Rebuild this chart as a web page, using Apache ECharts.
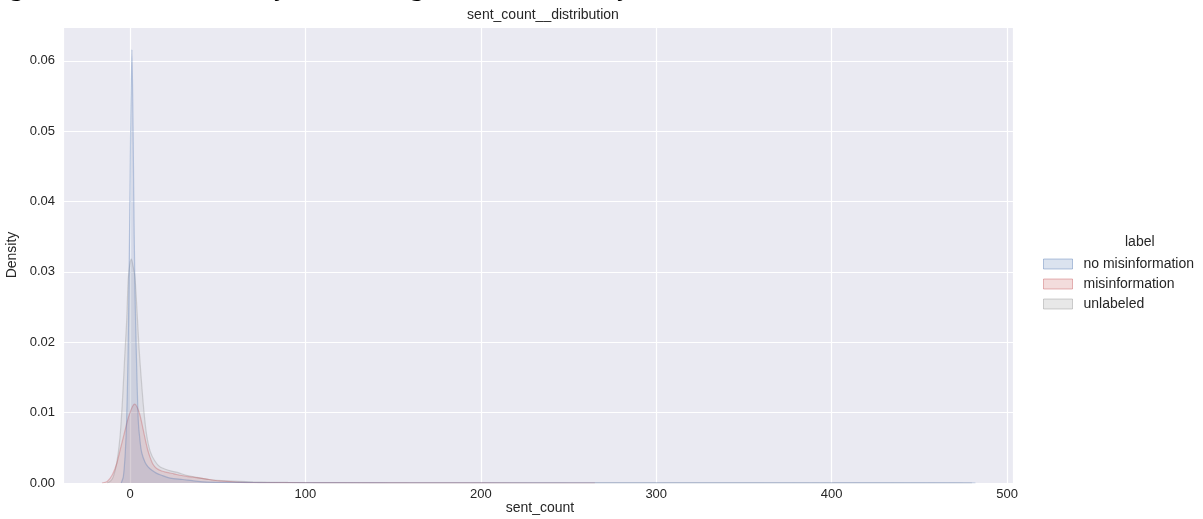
<!DOCTYPE html>
<html>
<head>
<meta charset="utf-8">
<script src="https://cdn.jsdelivr.net/npm/echarts@6/dist/echarts.min.js"></script>
<style>
html,body{margin:0;padding:0;background:#fff;}
#chart{width:1203px;height:519px;}
</style>
</head>
<body>
<div id="chart"></div>
<script>
// ---- data ----
const seriesNames = ['no misinformation', 'misinformation', 'unlabeled'];

const noMisX = [-5, -3.8, -2.7, -1.9, -1.1, -0.6, 0, 0.4, 1.1, 1.7, 2.1, 2.8, 3.6, 4.7, 5.7, 6.7, 8.5, 10.3, 12.5, 15, 18, 23, 30, 40, 50, 60, 65, 75, 100, 125, 150, 200, 300, 400, 465, 475, 482];
const noMisY = [0, 0.0009, 0.0043, 0.009, 0.0185, 0.0278, 0.042, 0.0516, 0.0616, 0.0516, 0.042, 0.0278, 0.0185, 0.009, 0.006, 0.0043, 0.003, 0.0023, 0.0018, 0.0014, 0.0011, 0.0007, 0.0005, 0.0002, 0.0001, 0.00008, 0.0001, 0.00005, 0.00003, 0.00003, 0.00001, 0.00001, 0.000005, 0.000005, 0.00002, 0.00001, 0];

const misX = [-16, -13, -10, -7.5, -5.5, -3.5, -1.5, 0, 1.5, 2.7, 4, 5.5, 7, 8.5, 10, 11.5, 13, 15, 18, 21, 25, 28.5, 33, 40, 45, 51, 57, 63, 75, 90, 110, 130, 160, 200, 265];
const misY = [0, 0.0002, 0.0012, 0.0028, 0.0048, 0.0068, 0.0088, 0.0100, 0.0109, 0.0112, 0.0108, 0.0098, 0.0082, 0.0064, 0.0048, 0.0036, 0.0027, 0.0021, 0.0017, 0.0015, 0.0013, 0.0011, 0.0009, 0.0007, 0.0005, 0.0003, 0.0002, 0.0001, 0.00006, 0.00004, 0.00003, 0.00002, 0.00001, 0.000005, 0];

const unlabX = [-13, -11, -9.5, -7.6, -5.7, -4.2, -2.9, -1.9, -1, 0, 0.8, 1.6, 2.8, 4.2, 5.2, 6.5, 8, 9.5, 11.5, 14, 17, 22, 27, 32, 38, 45, 55, 70, 90, 120, 160, 250, 480];
const unlabY = [0, 0.0003, 0.0009, 0.0028, 0.0065, 0.0122, 0.0185, 0.023, 0.029, 0.0312, 0.0318, 0.031, 0.0293, 0.0235, 0.019, 0.0145, 0.010, 0.0068, 0.0045, 0.0032, 0.0023, 0.0018, 0.0015, 0.0011, 0.0008, 0.0005, 0.0003, 0.00015, 0.00008, 0.00004, 0.00002, 0.00001, 0];

const yTickDecimals = 2;
const chartTitle = 'sent_count__distribution';
const xName = 'sent_count';
const yName = 'Density';
const legendTitle = 'label';
const captionWords = ['Figura 15 –', 'Distribuição da', 'contagem de', 'sentenças'];

// ---- styling ----
const baseRGB = ['76,114,176', '196,78,82', '140,140,140'];
const xs = [noMisX, misX, unlabX];
const ys = [noMisY, misY, unlabY];

function pairs(a, b) { return a.map((v, i) => [v, b[i]]); }

const series = seriesNames.map((name, i) => ({
  name: name,
  type: 'line',
  data: pairs(xs[i], ys[i]),
  showSymbol: false,
  smooth: 0.25,
  z: 10 - i,
  lineStyle: { color: 'rgba(' + baseRGB[i] + ',0.32)', width: 1.2 },
  itemStyle: { color: 'rgba(' + baseRGB[i] + ',0.2)' },
  areaStyle: { color: 'rgba(' + baseRGB[i] + ',0.18)', origin: 'start' }
}));

const captionX = [-14, 171, 349, 542];
const FONT = 'Liberation Sans, Arial, sans-serif';

const chart = echarts.init(document.getElementById('chart'), null, { renderer: 'canvas' });
chart.setOption({
  animation: false,
  backgroundColor: '#ffffff',
  textStyle: { fontFamily: FONT, color: '#262626' },
  title: {
    text: chartTitle,
    left: 538, top: 3, textAlign: 'center',
    textStyle: { fontSize: 14, fontWeight: 'normal', color: '#262626', fontFamily: FONT }
  },
  grid: {
    left: 63, right: 190, top: 27, bottom: 36,
    containLabel: false, outerBoundsMode: 'none',
    show: true, backgroundColor: '#eaeaf2', borderWidth: 0
  },
  xAxis: {
    type: 'value', min: -38.2, max: 503.4, splitNumber: 5,
    axisLine: { show: false }, axisTick: { show: false },
    axisLabel: { showMinLabel: false, showMaxLabel: false, fontSize: 13, color: '#262626', margin: 5 },
    splitLine: { show: true, lineStyle: { color: '#ffffff', width: 1.2 } }
  },
  yAxis: {
    type: 'value', min: 0, max: 0.0648, splitNumber: 6,
    name: yName, nameLocation: 'middle', nameGap: 35,
    nameTextStyle: { fontSize: 14, color: '#262626' },
    axisLine: { show: false }, axisTick: { show: false },
    axisLabel: { showMaxLabel: false, fontSize: 13, color: '#262626', margin: 8, formatter: v => v.toFixed(yTickDecimals) },
    splitLine: { show: true, lineStyle: { color: '#ffffff', width: 1.2 } }
  },
  legend: {
    orient: 'vertical', left: 1043, top: 257, padding: 0,
    icon: 'rect', itemWidth: 29, itemHeight: 10, itemGap: 6,
    textStyle: { fontSize: 14, color: '#262626', lineHeight: 14, padding: [0, 0, 0, 6] },
    data: seriesNames.map((n, i) => ({
      name: n,
      itemStyle: { color: 'rgba(' + baseRGB[i] + ',0.2)', borderColor: 'rgba(' + baseRGB[i] + ',0.4)', borderWidth: 1 }
    }))
  },
  graphic: [
    { type: 'text', left: 1125, top: 235, style: { text: legendTitle, fontSize: 14, fill: '#262626', fontFamily: FONT } },
    { type: 'text', x: 540, y: 508, style: { text: xName, fontSize: 14, fill: '#262626', fontFamily: FONT, align: 'center', verticalAlign: 'middle' } }
  ].concat(captionWords.map((w, i) => ({
    type: 'text', x: captionX[i], y: -12,
    style: { text: w, fontSize: 28, fill: '#000', fontFamily: 'Liberation Serif, Times New Roman, serif', verticalAlign: 'middle' }
  }))),
  series: series
});
</script>
</body>
</html>
